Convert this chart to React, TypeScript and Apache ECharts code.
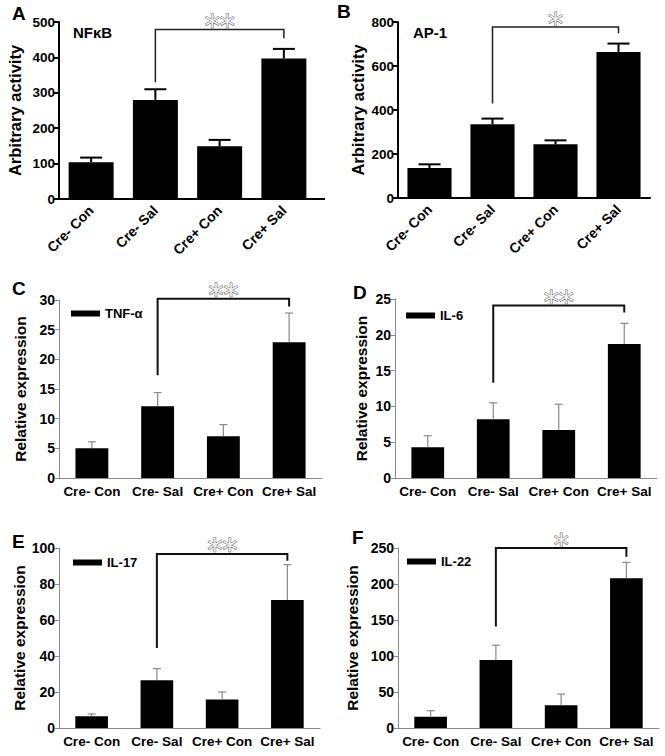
import React, { useEffect, useRef } from "react";
import * as echarts from "echarts";

const categories = ["Cre- Con", "Cre- Sal", "Cre+ Con", "Cre+ Sal"];

const nfkbMean = [104, 280, 149, 397];
const nfkbUpper = [117, 310, 167, 424];
const ap1Mean = [136, 335, 244, 664];
const ap1Upper = [153, 361, 262, 702];
const tnfMean = [5.0, 12.1, 7.05, 22.9];
const tnfUpper = [6.1, 14.4, 9.0, 27.8];
const il6Mean = [4.3, 8.2, 6.7, 18.7];
const il6Upper = [5.9, 10.5, 10.3, 21.6];
const il17Mean = [6.5, 26.5, 15.8, 71.1];
const il17Upper = [7.8, 33, 20, 90.7];
const il22Mean = [15.7, 94.5, 31.5, 208];
const il22Upper = [24, 115, 47.2, 230];

// bracket: [fromCategory, toCategory, top, leftEnd, rightEnd]
const bracketA = [1, 3, 479, 330, 454];
const bracketB = [1, 3, 777, 430, 749];
const bracketC = [1, 3, 30.2, 17.3, 28.9];
const bracketD = [1, 3, 24.1, 13.3, 23.1];
const bracketE = [1, 3, 96.7, 44.4, 92.9];
const bracketF = [1, 3, 250, 141, 238];
const sigMarks = ["**", "*", "**", "**", "**", "*"];

const panelLetters = ["A", "B", "C", "D", "E", "F"];
const seriesNames = ["NFκB", "AP-1", "TNF-α", "IL-6", "IL-17", "IL-22"];
const yTitles = ["Arbitrary activity", "Arbitrary activity", "Relative expression", "Relative expression", "Relative expression", "Relative expression"];
const yMax = [500, 800, 30, 25, 100, 250];
const yInterval = [100, 200, 5, 5, 20, 50];

const FONT = "Arial, 'Liberation Sans', Helvetica, sans-serif";

export default function App() {
  const ref = useRef<HTMLDivElement>(null);
  useEffect(() => {
    document.body.style.margin = "0";
    if (!ref.current) return;
    const chart = echarts.init(ref.current, null, { renderer: "svg" });

    const means = [nfkbMean, ap1Mean, tnfMean, il6Mean, il17Mean, il22Mean];
    const uppers = [nfkbUpper, ap1Upper, tnfUpper, il6Upper, il17Upper, il22Upper];
    const brackets = [bracketA, bracketB, bracketC, bracketD, bracketE, bracketF];

    const layout = [
      { left: 59, top: 22, width: 257, height: 177, gap: 36, letter: [12, 4], rotate: 45, style: "gp", barW: "70%", title: [73, 25] },
      { left: 398, top: 22, width: 252, height: 176, gap: 32, letter: [337, 2], rotate: 45, style: "gp", barW: "70%", title: [413, 25] },
      { left: 59, top: 300, width: 263, height: 178, gap: 31, letter: [12, 279], rotate: 0, style: "xl", barW: "50%", legend: [71, 307] },
      { left: 395, top: 299, width: 262, height: 179, gap: 26, letter: [353, 283], rotate: 0, style: "xl", barW: "50%", legend: [406, 309] },
      { left: 59, top: 548, width: 261, height: 180, gap: 31, letter: [12, 532], rotate: 0, style: "xl", barW: "50%", legend: [73, 556] },
      { left: 398, top: 548, width: 261, height: 180, gap: 38, letter: [352, 528], rotate: 0, style: "xl", barW: "50%", legend: [407, 555] },
    ];

    const grid: any[] = [];
    const xAxis: any[] = [];
    const yAxis: any[] = [];
    const series: any[] = [];
    const legend: any[] = [];
    const title: any[] = [];

    layout.forEach((L, i) => {
      const gp = L.style === "gp";
      const axisColor = gp ? "#000" : "#8a8a8a";
      grid.push({ left: L.left, top: L.top, width: L.width, height: L.height, containLabel: false });
      xAxis.push({
        type: "category",
        gridIndex: i,
        data: categories,
        axisLine: { lineStyle: { color: axisColor, width: gp ? 2 : 1 } },
        axisTick: { alignWithLabel: true, length: gp ? 6 : 4, lineStyle: { color: axisColor, width: gp ? 2 : 1 } },
        axisLabel: {
          rotate: L.rotate,
          interval: 0,
          margin: gp ? 9 : 6,
          color: "#000",
          fontWeight: "bold",
          fontSize: gp ? 14 : 13.5,
          fontFamily: FONT,
        },
      });
      yAxis.push({
        type: "value",
        gridIndex: i,
        min: 0,
        max: yMax[i],
        interval: yInterval[i],
        name: yTitles[i],
        nameLocation: "middle",
        nameGap: L.gap,
        nameTextStyle: { color: "#000", fontWeight: "bold", fontSize: gp ? 16.5 : 15.5, fontFamily: FONT },
        axisLine: { show: true, lineStyle: { color: axisColor, width: gp ? 2 : 1 } },
        axisTick: { show: true, length: gp ? 5 : 4, lineStyle: { color: axisColor, width: gp ? 2 : 1 } },
        splitLine: { show: false },
        axisLabel: {
          color: "#000",
          fontWeight: "bold",
          fontSize: gp ? 13.5 : 14,
          fontFamily: FONT,
          margin: 4,
          showMaxLabel: true,
          showMinLabel: true,
          hideOverlap: false,
        },
      });
      series.push({
        type: "bar",
        name: seriesNames[i],
        xAxisIndex: i,
        yAxisIndex: i,
        data: means[i],
        barWidth: L.barW,
        itemStyle: { color: "#000" },
        z: 2,
      });
      series.push({
        type: "custom",
        name: seriesNames[i] + " error",
        xAxisIndex: i,
        yAxisIndex: i,
        z: 3,
        encode: { x: 0, y: [1, 2] },
        data: means[i].map((m, k) => [k, m, uppers[i][k]]),
        renderItem: (params: any, api: any) => {
          const p0 = api.coord([api.value(0), api.value(1)]);
          const p1 = api.coord([api.value(0), api.value(2)]);
          const half = gp ? 11 : 4;
          const st = { stroke: gp ? "#000" : "#8a8a8a", lineWidth: gp ? 2 : 1.2 };
          return {
            type: "group",
            children: [
              { type: "line", shape: { x1: p0[0], y1: p0[1], x2: p1[0], y2: p1[1] }, style: st },
              { type: "line", shape: { x1: p1[0] - half, y1: p1[1], x2: p1[0] + half, y2: p1[1] }, style: st },
            ],
          };
        },
      });
      const b = brackets[i];
      series.push({
        type: "custom",
        name: seriesNames[i] + " significance",
        xAxisIndex: i,
        yAxisIndex: i,
        z: 4,
        clip: false,
        encode: { x: [0, 1], y: [2, 3, 4] },
        data: [b],
        renderItem: (params: any, api: any) => {
          const pL = api.coord([api.value(0), api.value(3)]);
          const pT = api.coord([api.value(0), api.value(2)]);
          const pR = api.coord([api.value(1), api.value(4)]);
          const pTR = api.coord([api.value(1), api.value(2)]);
          return {
            type: "group",
            children: [
              {
                type: "polyline",
                shape: { points: [pL, pT, pTR, pR] },
                style: { stroke: gp ? "#222" : "#111", lineWidth: gp ? 1.5 : 2, fill: "none" },
              },
              {
                type: "text",
                x: (pT[0] + pTR[0]) / 2,
                y: pT[1] - 19,
                style: {
                  text: sigMarks[i],
                  align: "center",
                  verticalAlign: "top",
                  fontSize: 30,
                  fontFamily: "'DejaVu Sans', sans-serif",
                  fill: "#eeeeee",
                  stroke: "#555",
                  lineWidth: 0.9,
                },
              },
            ],
          };
        },
      });
      title.push({
        text: panelLetters[i],
        left: L.letter[0],
        top: L.letter[1],
        padding: 0,
        textStyle: { fontSize: 19, fontWeight: "bold", color: "#000", fontFamily: FONT },
      });
      if (gp) {
        title.push({
          text: seriesNames[i],
          left: L.title![0],
          top: L.title![1],
          padding: 0,
          textStyle: { fontSize: 15, fontWeight: "bold", color: "#000", fontFamily: FONT },
        });
      } else {
        legend.push({
          data: [seriesNames[i]],
          left: L.legend![0],
          top: L.legend![1],
          padding: 0,
          itemWidth: 29,
          itemHeight: 6,
          itemGap: 6,
          icon: "rect",
          textStyle: { fontSize: 13, fontWeight: "bold", color: "#000", fontFamily: FONT },
        });
      }
    });

    chart.setOption({
      animation: false,
      backgroundColor: "#fff",
      title,
      legend,
      grid,
      xAxis,
      yAxis,
      series,
      graphic: [
        { type: "line", shape: { x1: 315, y1: 199, x2: 325, y2: 199 }, style: { stroke: "#000", lineWidth: 2 } },
      ],
    });
    return () => chart.dispose();
  }, []);
  return <div ref={ref} style={{ width: 665, height: 756 }} />;
}
